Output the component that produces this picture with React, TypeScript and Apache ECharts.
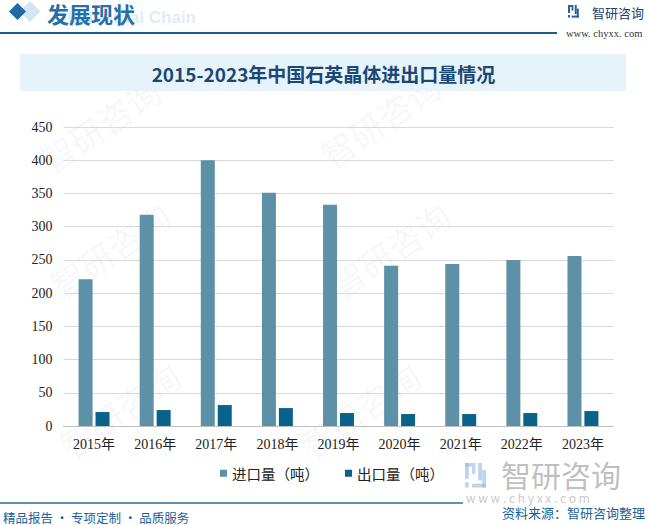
import React, { useEffect, useRef } from "react";
import * as echarts from "echarts";

const categories = ["2015年", "2016年", "2017年", "2018年", "2019年", "2020年", "2021年", "2022年", "2023年"];
const importValues = [221, 318, 400, 351, 333, 241, 244, 250, 256];
const exportValues = [21, 24, 31.5, 27, 19.5, 18, 18, 19.5, 22.5];
const seriesNames = ["进口量（吨）", "出口量（吨）"];
const titleText = "2015-2023年中国石英晶体进出口量情况";
const headerText = "发展现状";
const sourceText = "资料来源：智研咨询整理";
const sloganText = "精品报告 · 专项定制 · 品质服务";
const brandText = "智研咨询";

const CJK = '"Noto Sans CJK SC", "Noto Sans", sans-serif';
const SERIF = '"Liberation Serif", "Noto Sans CJK SC", serif';

function logoIcon(x: number, y: number, s: number, fill: string, z = 10) {
  const r = (rx: number, ry: number, w: number, h: number) => ({
    type: "rect",
    z,
    shape: { x: x + rx * s, y: y + ry * s, width: w * s, height: h * s },
    style: { fill },
  });
  return [
    r(0, 0, 6, 2.2),
    r(0, 0, 2.2, 9),
    r(4, 2.2, 2, 4),
    r(0, 11, 2.2, 3),
    r(7.5, 0, 2.2, 10),
    r(4, 11.8, 8, 2.2),
    r(9.8, 4, 2.2, 10),
  ];
}

function watermarks() {
  const out: any[] = [];
  const spots = [
    [110, 250], [390, 250],
    [100, 125], [380, 120],
    [120, 410], [360, 410],
  ];
  for (const [x, y] of spots) {
    out.push({
      type: "text",
      z: 0,
      x,
      y,
      rotation: 0.6,
      style: {
        text: brandText,
        font: `34px ${CJK}`,
        fill: "rgba(200,210,220,0.16)",
        textAlign: "center",
        textVerticalAlign: "middle",
      },
    });
  }
  return out;
}

export default function App() {
  const ref = useRef<HTMLDivElement>(null);

  useEffect(() => {
    if (!ref.current) return;
    const chart = echarts.init(ref.current, null, { renderer: "svg" });
    const option: any = {
      animation: false,
      backgroundColor: "#ffffff",
      grid: { left: 63.5, right: 33.5, top: 127, bottom: 99, containLabel: false },
      legend: {
        data: seriesNames,
        left: 215,
        top: 461,
        itemWidth: 7,
        itemHeight: 7,
        itemGap: 26,
        icon: "rect",
        textStyle: { fontFamily: CJK, fontSize: 14.5, color: "#222" },
      },
      xAxis: {
        type: "category",
        data: categories,
        axisLine: { lineStyle: { color: "#bfbfbf" } },
        axisTick: { show: false },
        axisLabel: { fontFamily: SERIF, fontSize: 14, color: "#222", margin: 11 },
      },
      yAxis: {
        type: "value",
        min: 0,
        max: 450,
        interval: 50,
        axisLine: { show: false },
        axisTick: { show: false },
        splitLine: { lineStyle: { color: "#d9d9d9", width: 1 } },
        axisLabel: { fontFamily: SERIF, fontSize: 14, color: "#222", margin: 11 },
      },
      series: [
        {
          name: seriesNames[0],
          type: "bar",
          data: importValues,
          barWidth: 14,
          barGap: "21%",
          itemStyle: { color: "#5d91a8" },
          z: 5,
        },
        {
          name: seriesNames[1],
          type: "bar",
          data: exportValues,
          barWidth: 14,
          itemStyle: { color: "#09628a" },
          z: 5,
        },
      ],
      graphic: [
        ...watermarks(),
        {
          type: "text",
          z: 1,
          x: 196,
          y: 17,
          style: {
            text: "Industrial Chain",
            font: 'bold 17px "Liberation Sans", Arial, sans-serif',
            fill: "#e1ecf6",
            textAlign: "right",
            textVerticalAlign: "middle",
          },
        },
        {
          type: "polygon",
          z: 2,
          shape: { points: [[30, 1], [40.5, 11.5], [30, 22], [19.5, 11.5]] },
          style: { fill: "#d3e4f2" },
        },
        {
          type: "polygon",
          z: 3,
          shape: { points: [[17.5, 3], [26, 11.5], [17.5, 20], [9, 11.5]] },
          style: { fill: "#1f6aa5" },
        },
        {
          type: "text",
          z: 3,
          x: 47,
          y: 13,
          style: {
            text: headerText,
            font: `bold 22px ${CJK}`,
            fill: "#2470a8",
            textVerticalAlign: "middle",
          },
        },
        {
          type: "line",
          z: 3,
          shape: { x1: 0, y1: 33, x2: 557, y2: 33 },
          style: { stroke: "#1f5d8a", lineWidth: 2 },
        },
        ...logoIcon(568, 5, 0.9, "#2a5fa0"),
        {
          type: "text",
          z: 3,
          x: 592,
          y: 12.5,
          style: {
            text: brandText,
            font: `13px ${CJK}`,
            fill: "#1d3f6e",
            textVerticalAlign: "middle",
          },
        },
        {
          type: "text",
          z: 3,
          x: 566,
          y: 33,
          style: {
            text: "www. chyxx. com",
            font: `10.5px ${SERIF}`,
            fill: "#333",
            textVerticalAlign: "middle",
          },
        },
        {
          type: "rect",
          z: 1,
          shape: { x: 20, y: 54, width: 606, height: 37 },
          style: { fill: "#e6f3fb" },
        },
        {
          type: "text",
          z: 3,
          x: 323.5,
          y: 73,
          style: {
            text: titleText,
            font: `bold 19px ${CJK}`,
            fill: "#1b4776",
            textAlign: "center",
            textVerticalAlign: "middle",
          },
        },
        ...logoIcon(465, 463, 1.75, "rgba(150,185,220,0.6)"),
        {
          type: "text",
          z: 3,
          x: 501,
          y: 474,
          style: {
            text: brandText,
            font: `30px ${CJK}`,
            fill: "rgba(170,170,170,0.75)",
            textVerticalAlign: "middle",
          },
        },
        {
          type: "text",
          z: 3,
          x: 466,
          y: 497,
          style: {
            text: "w w w . c h y x x . c o m",
            font: `12px ${CJK}`,
            fill: "rgba(175,175,175,0.7)",
            textVerticalAlign: "middle",
          },
        },
        {
          type: "line",
          z: 3,
          shape: { x1: 0, y1: 503, x2: 463, y2: 503 },
          style: { stroke: "#2a6b9c", lineWidth: 1.5 },
        },
        {
          type: "text",
          z: 4,
          x: 645,
          y: 512,
          style: {
            text: sourceText,
            font: `13px ${CJK}`,
            fill: "#1a5f9a",
            textAlign: "right",
            textVerticalAlign: "middle",
          },
        },
        {
          type: "text",
          z: 4,
          x: 3,
          y: 517,
          style: {
            text: sloganText,
            font: `12.5px ${CJK}`,
            fill: "#1a5f9a",
            textVerticalAlign: "middle",
          },
        },
      ],
    };
    chart.setOption(option);
    return () => chart.dispose();
  }, []);

  return (
    <div
      ref={ref}
      style={{ position: "fixed", left: 0, top: 0, width: 647, height: 525 }}
    />
  );
}
